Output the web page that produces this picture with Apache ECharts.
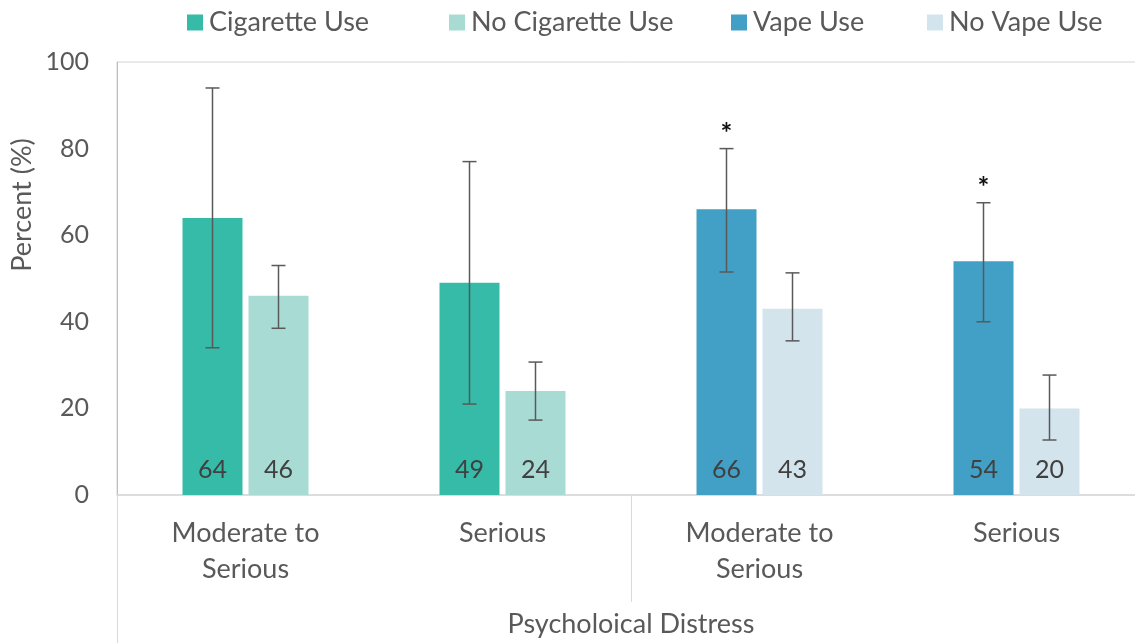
<!DOCTYPE html>
<html>
<head>
<meta charset="utf-8">
<script src="https://cdn.jsdelivr.net/npm/echarts@6/dist/echarts.min.js"></script>
<style>
  html, body { margin: 0; padding: 0; background: #fff; }
  #chart { width: 1135px; height: 643px; }
</style>
</head>
<body>
<div id="chart"></div>
<script>
// data
const categories = ["Moderate to\nSerious", "Serious", "Moderate to\nSerious", "Serious"];
const cigaretteUse = [64, 49, "-", "-"];
const noCigaretteUse = [46, 24, "-", "-"];
const vapeUse = ["-", "-", 66, 54];
const noVapeUse = ["-", "-", 43, 20];
// confidence intervals (first bar = use, second bar = no use)
const useLow = [34, 21, 51.5, 40];
const useHigh = [94, 77, 80, 67.5];
const noUseLow = [38.5, 17.3, 35.6, 12.7];
const noUseHigh = [53, 30.7, 51.3, 27.7];
const significant = [false, false, true, true];
const yTicks = [0, 20, 40, 60, 80, 100];
const seriesNames = ["Cigarette Use", "No Cigarette Use", "Vape Use", "No Vape Use"];

const FONT = "Lato";
const GREY = "#595959";
const BAR_W = 60;
const OFFSET = 33; // half of bar width + half gap
const COLORS = ["#35bba8", "#a8dbd3", "#429fc5", "#d3e4ed"];
const LEGEND_LEFT = [182, 444, 726, 922];

const chart = echarts.init(document.getElementById("chart"));

let errData = [];
categories.forEach((c, i) => {
  errData.push([i, useLow[i], useHigh[i], -1, significant[i] ? 1 : 0]);
  errData.push([i, noUseLow[i], noUseHigh[i], 1, 0]);
});

const barLabel = {
  show: true,
  position: "insideBottom",
  distance: 13,
  color: "#404040",
  fontSize: 25,
  fontFamily: FONT,
};

function barSeries(name, data, stack, color) {
  return {
    name: name,
    type: "bar",
    stack: stack,
    data: data,
    barWidth: BAR_W,
    barGap: "10%",
    itemStyle: { color: color },
    label: barLabel,
  };
}

// one legend per item so each sits where Excel put it
const legends = seriesNames.map((n, i) => ({
  top: 4,
  left: LEGEND_LEFT[i],
  itemWidth: 16,
  itemHeight: 16,
  icon: "rect",
  textStyle: { fontSize: 27, color: GREY, fontFamily: FONT, padding: [0, 0, 0, 1] },
  data: [n],
}));

chart.setOption({
  animation: false,
  textStyle: { fontFamily: FONT },
  legend: legends,
  grid: {
    left: 117,
    top: 62,
    width: 1028,
    bottom: 148,
    show: true,
    borderColor: "#d4d4d4",
    borderWidth: 1,
    outerBoundsMode: "none",
  },
  xAxis: {
    type: "category",
    data: categories,
    name: "Psycholoical Distress",
    nameLocation: "middle",
    nameGap: 116,
    nameTextStyle: { fontSize: 27, color: GREY, fontFamily: FONT },
    axisLine: { lineStyle: { color: "#d9d9d9", width: 1.5 } },
    axisTick: { show: false },
    axisLabel: {
      color: GREY,
      fontSize: 27,
      fontFamily: FONT,
      lineHeight: 36,
      margin: 20,
      interval: 0,
    },
  },
  yAxis: {
    type: "value",
    min: yTicks[0],
    max: yTicks[yTicks.length - 1],
    interval: 20,
    axisLine: { show: true, lineStyle: { color: "#bfbfbf" } },
    axisTick: { show: false },
    splitLine: { show: false },
    axisLabel: { color: GREY, fontSize: 25, fontFamily: FONT, margin: 28 },
  },
  series: [
    barSeries(seriesNames[0], cigaretteUse, "use", COLORS[0]),
    barSeries(seriesNames[1], noCigaretteUse, "nouse", COLORS[1]),
    barSeries(seriesNames[2], vapeUse, "use", COLORS[2]),
    barSeries(seriesNames[3], noVapeUse, "nouse", COLORS[3]),
    {
      type: "custom",
      name: "errors",
      z: 10,
      data: errData,
      renderItem: function (params, api) {
        const base = api.coord([api.value(0), 0]);
        const x = base[0] + api.value(3) * OFFSET;
        const yLo = api.coord([api.value(0), api.value(1)])[1];
        const yHi = api.coord([api.value(0), api.value(2)])[1];
        const style = { stroke: GREY, lineWidth: 1.5 };
        const kids = [
          { type: "line", shape: { x1: x, y1: yLo, x2: x, y2: yHi }, style: style },
          { type: "line", shape: { x1: x - 7, y1: yHi, x2: x + 7, y2: yHi }, style: style },
          { type: "line", shape: { x1: x - 7, y1: yLo, x2: x + 7, y2: yLo }, style: style },
        ];
        if (api.value(4)) {
          kids.push({
            type: "text",
            style: {
              text: "*",
              x: x,
              y: yHi - 15,
              align: "center",
              verticalAlign: "middle",
              fontSize: 28,
              fontWeight: "bold",
              fontFamily: FONT,
              fill: "#111",
            },
          });
        }
        return { type: "group", children: kids };
      },
    },
  ],
  graphic: [
    { type: "line", shape: { x1: 117.5, y1: 495, x2: 117.5, y2: 643 }, style: { stroke: "#d9d9d9", lineWidth: 1 } },
    { type: "line", shape: { x1: 631.5, y1: 495, x2: 631.5, y2: 602 }, style: { stroke: "#d9d9d9", lineWidth: 1 } },
    {
      type: "text",
      x: 22,
      y: 205,
      rotation: Math.PI / 2,
      style: {
        text: "Percent (%)",
        fontSize: 27,
        fontFamily: FONT,
        fill: GREY,
        align: "center",
        verticalAlign: "middle",
      },
    },
  ],
});
</script>
</body>
</html>
